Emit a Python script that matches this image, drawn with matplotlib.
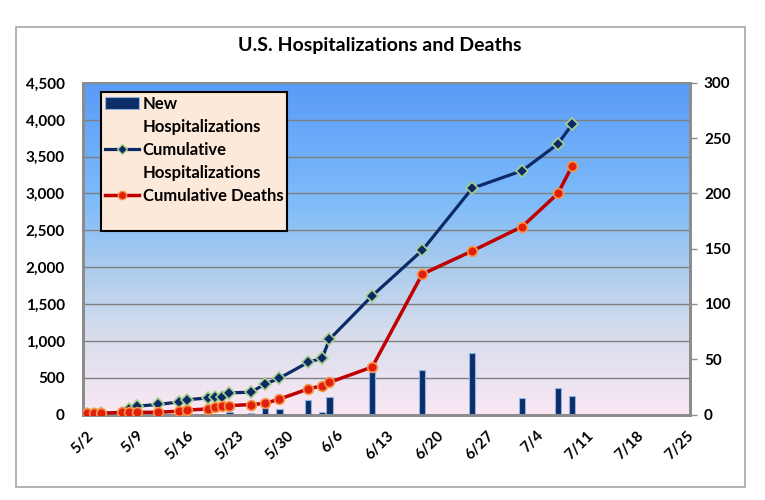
import numpy as np
import pandas as pd
import matplotlib
matplotlib.use("Agg")
import matplotlib.pyplot as plt
import matplotlib.dates as mdates
from matplotlib.colors import LinearSegmentedColormap
from matplotlib.patches import Rectangle, Patch
from matplotlib.lines import Line2D
from matplotlib.ticker import FuncFormatter

# dados
dates = ["5/2", "5/3", "5/4", "5/7", "5/8", "5/9", "5/12", "5/15", "5/16", "5/19",
         "5/20", "5/21", "5/22", "5/25", "5/27", "5/29", "6/2", "6/4", "6/5", "6/11",
         "6/18", "6/25", "7/2", "7/7", "7/9"]
new_hosp = [0, 0, 0, 0, 0, 0, 0, 0, 0, 0,
            0, 0, 35, 15, 95, 68, 194, 35, 240, 580,
            602, 829, 226, 353, 253]
cum_hosp = [8, 12, 15, 25, 70, 113, 136, 171, 200, 225,
            235, 240, 294, 303, 412, 493, 707, 765, 1019, 1612,
            2228, 3071, 3310, 3672, 3940]
cum_deaths = [1, 1, 1, 2, 2, 2, 2, 3, 4, 5,
              7, 8, 8, 9, 10, 14, 23, 26, 29, 43,
              127, 148, 170, 200, 225]
tick_dates = ["5/2", "5/9", "5/16", "5/23", "5/30", "6/6", "6/13", "6/20",
              "6/27", "7/4", "7/11", "7/18", "7/25"]
left_ticks = [0, 500, 1000, 1500, 2000, 2500, 3000, 3500, 4000, 4500]
right_ticks = [0, 50, 100, 150, 200, 250, 300]

x = pd.to_datetime([d + "/2020" for d in dates], format="%m/%d/%Y")
xt = pd.to_datetime([d + "/2020" for d in tick_dates], format="%m/%d/%Y")

plt.rcParams["font.family"] = ["Lato", "DejaVu Sans"]
plt.rcParams["font.weight"] = "bold"

f = plt.figure(figsize=(7.65, 5), dpi=100)
f.patches.append(Rectangle((16 / 765, 13 / 500), 729 / 765, 460 / 500,
                           transform=f.transFigure, fill=False,
                           edgecolor="#a6a6a6", linewidth=1.2))
f.text(380 / 765, 1 - 45 / 500, "U.S. Hospitalizations and Deaths",
       ha="center", va="center", fontsize=14, fontweight="bold")

ax = f.add_axes([83 / 765, 1 - 414.5 / 500, 607 / 765, 331.5 / 500])

# fundo em degrade
cmap = LinearSegmentedColormap.from_list(
    "bg", [(0, "#fbe8f4"), (0.25, "#d5dcec"), (0.45, "#a9cbee"),
           (0.65, "#7dbbfa"), (1, "#599bf7")])
grad = np.linspace(1, 0, 256)[:, None]
ax.imshow(grad, extent=[0, 1, 0, 1], transform=ax.transAxes, aspect="auto",
          cmap=cmap, vmin=0, vmax=1, zorder=0)

ax.bar(x, new_hosp, width=0.9, color="#0c2d68", edgecolor="#8db4e2",
       linewidth=0.8, zorder=2)
ax.plot(x, cum_hosp, color="#0b2a66", linewidth=2.3, marker="D", markersize=6,
        markerfacecolor="#0b2a66", markeredgecolor="#a9d18e",
        markeredgewidth=1.2, zorder=3)

ax2 = ax.twinx()
ax2.plot(x, cum_deaths, color="#c00000", linewidth=2.5, marker="o", markersize=7,
         markerfacecolor="#e0200c", markeredgecolor="#f79646",
         markeredgewidth=1.2, zorder=3)

ax.set_xlim(xt[0] - pd.Timedelta(hours=12), xt[-1] + pd.Timedelta(hours=12))
ax.set_ylim(0, 4500)
ax2.set_ylim(0, 300)

ax.set_xticks(xt)
ax.xaxis.set_major_formatter(FuncFormatter(
    lambda v, p: "{}/{}".format(mdates.num2date(v).month, mdates.num2date(v).day)))
ax.set_yticks(left_ticks)
ax.yaxis.set_major_formatter(FuncFormatter(lambda v, p: "{:,.0f}".format(v)))
ax2.set_yticks(right_ticks)

for lab in ax.get_xticklabels():
    lab.set_rotation(45)
    lab.set_ha("right")
    lab.set_rotation_mode("anchor")
ax.tick_params(axis="x", length=0, pad=10, labelsize=11)
ax.tick_params(axis="y", length=0, pad=13, labelsize=11)
ax2.tick_params(axis="y", length=5, width=1, color="#8c8c8c", pad=5, labelsize=11)

ax.set_axisbelow(True)
ax.grid(axis="y", color="#7f7f7f", linewidth=1, zorder=1)

for a in (ax, ax2):
    for s in a.spines.values():
        s.set_color("#8c8c8c")
        s.set_linewidth(2)
    a.spines["top"].set_linewidth(1.2)

# legenda: cada linha de texto como uma entrada propria
blank = Line2D([], [], color="none")
handles = [
    Patch(facecolor="#0c2d68", edgecolor="#8db4e2", linewidth=0.8),
    blank,
    Line2D([], [], color="#0b2a66", linewidth=2.3, marker="D", markersize=5,
           markerfacecolor="#0b2a66", markeredgecolor="#a9d18e"),
    blank,
    Line2D([], [], color="#c00000", linewidth=2.5, marker="o", markersize=6,
           markerfacecolor="#e0200c", markeredgecolor="#f79646"),
    blank,
]
labels = ["New", "Hospitalizations", "Cumulative", "Hospitalizations",
          "Cumulative Deaths", " "]
leg = ax2.legend(handles, labels, loc="upper left",
                 bbox_to_anchor=(101 / 765, 1 - 92 / 500),
                 bbox_transform=f.transFigure, fontsize=12,
                 frameon=True, fancybox=False, framealpha=1,
                 facecolor="#fde9d9", edgecolor="black",
                 handlelength=2.0, handletextpad=0.25, labelspacing=0.42,
                 borderpad=0.25, borderaxespad=0)
leg.get_frame().set_linewidth(1.5)

plt.savefig("out.png", dpi=100)
